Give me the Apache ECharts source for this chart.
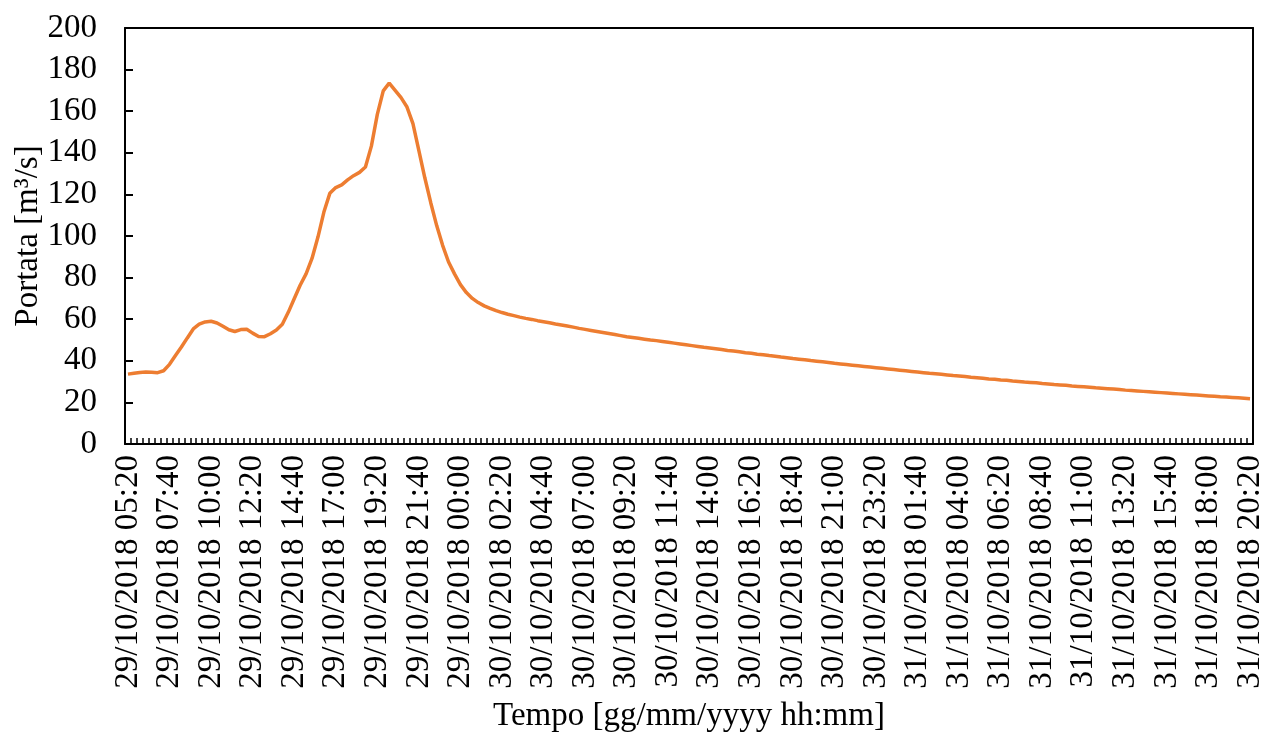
<!DOCTYPE html>
<html>
<head>
  <meta charset="utf-8">
  <title>Portata</title>
  <script src="https://cdn.jsdelivr.net/npm/echarts@6/dist/echarts.min.js"></script>
  <style>
    html, body { margin: 0; padding: 0; background: #fff; }
    #chart { width: 1263px; height: 733px; }
  </style>
</head>
<body>
  <div id="chart"></div>
  <script type="application/javascript">
      // etichette visibili sull'asse x (una ogni 7 intervalli da 20 min)
      var tickLabels = [
          '29/10/2018 05:20', '29/10/2018 07:40', '29/10/2018 10:00', '29/10/2018 12:20',
          '29/10/2018 14:40', '29/10/2018 17:00', '29/10/2018 19:20', '29/10/2018 21:40',
          '29/10/2018 00:00', '30/10/2018 02:20', '30/10/2018 04:40', '30/10/2018 07:00',
          '30/10/2018 09:20', '30/10/2018 11:40', '30/10/2018 14:00', '30/10/2018 16:20',
          '30/10/2018 18:40', '30/10/2018 21:00', '30/10/2018 23:20', '31/10/2018 01:40',
          '31/10/2018 04:00', '31/10/2018 06:20', '31/10/2018 08:40', '31/10/2018 11:00',
          '31/10/2018 13:20', '31/10/2018 15:40', '31/10/2018 18:00', '31/10/2018 20:20'
      ];

      // portata [m3/s], un valore ogni 20 minuti
      var portata = [
          33.6, 34.0, 34.4, 34.6, 34.5, 34.3, 35.2, 38.3, 42.5, 46.6,
          51.0, 55.3, 57.6, 58.7, 59.0, 58.2, 56.6, 54.9, 54.1, 55.0,
          55.2, 53.3, 51.7, 51.6, 53.0, 54.8, 57.6, 63.3, 69.8, 76.3,
          81.8, 89.2, 99.5, 111.5, 120.5, 123.3, 124.6, 127.0, 129.0, 130.6,
          133.2, 143.2, 158.5, 169.8, 173.5, 170.0, 166.5, 162.0, 154.0, 141.0,
          128.0, 116.0, 105.0, 95.5, 87.5, 81.8, 76.6, 72.8, 70.0, 68.0,
          66.4, 65.2, 64.1, 63.2, 62.4, 61.7, 61.0, 60.4, 59.9, 59.3,
          58.8, 58.3, 57.7, 57.2, 56.7, 56.2, 55.6, 55.1, 54.6, 54.1,
          53.6, 53.1, 52.6, 52.1, 51.6, 51.2, 50.8, 50.4, 50.0, 49.7,
          49.3, 48.9, 48.5, 48.1, 47.7, 47.3, 46.9, 46.5, 46.2, 45.8,
          45.4, 45.0, 44.7, 44.3, 43.9, 43.6, 43.2, 42.9, 42.5, 42.2,
          41.8, 41.5, 41.1, 40.8, 40.5, 40.1, 39.8, 39.5, 39.2, 38.8,
          38.5, 38.2, 37.9, 37.6, 37.3, 37.0, 36.7, 36.4, 36.1, 35.8,
          35.5, 35.2, 34.9, 34.6, 34.3, 34.0, 33.8, 33.5, 33.2, 32.9,
          32.7, 32.4, 32.1, 31.9, 31.6, 31.3, 31.1, 30.8, 30.6, 30.3,
          30.1, 29.8, 29.6, 29.4, 29.1, 28.9, 28.6, 28.4, 28.2, 27.9,
          27.7, 27.5, 27.3, 27.0, 26.8, 26.6, 26.4, 26.2, 25.9, 25.7,
          25.5, 25.3, 25.1, 24.9, 24.7, 24.5, 24.3, 24.1, 23.9, 23.7,
          23.5, 23.3, 23.1, 22.9, 22.7, 22.6, 22.4, 22.2, 22.0, 21.8
      ];

      var yTicks = [0, 20, 40, 60, 80, 100, 120, 140, 160, 180, 200];

      // categorie: solo una ogni 7 ha l'etichetta visibile
      var categorie = [];
      for (var i = 0; i < portata.length; i++) {
          categorie.push(i % 7 === 0 ? tickLabels[i / 7] : 'c' + i);
      }

      var font = 'Liberation Serif, Times New Roman, serif';
      var myChart = echarts.init(document.getElementById('chart'));
      myChart.setOption({
          animation: false,
          grid: [
              {
                  left: 125,
                  right: 10,
                  top: 28,
                  bottom: 289,
                  outerBoundsMode: 'none',
                  containLabel: false
              },
              {
                  // striscia larga 8 px sul bordo sinistro: le sue splitLine fanno da tacche
                  left: 125,
                  width: 8,
                  top: 28,
                  bottom: 289,
                  outerBoundsMode: 'none',
                  containLabel: false
              }
          ],
          xAxis: [
              {
                  type: 'category',
                  gridIndex: 0,
                  position: 'bottom',
                  boundaryGap: true,
                  data: categorie,
                  name: 'Tempo [gg/mm/yyyy hh:mm]',
                  nameLocation: 'middle',
                  nameGap: 256,
                  nameTextStyle: { fontFamily: font, fontSize: 33, color: '#000' },
                  axisLine: { show: true, lineStyle: { color: '#000', width: 2 } },
                  axisTick: { show: true, inside: true, interval: 0, length: 6, lineStyle: { color: '#000', width: 1.5 } },
                  axisLabel: {
                      interval: 6,
                      rotate: 90,
                      margin: 11,
                      fontFamily: font,
                      fontSize: 33,
                      color: '#000'
                  },
                  splitLine: { show: false }
              },
              {
                  // bordo superiore
                  type: 'category',
                  gridIndex: 0,
                  position: 'top',
                  boundaryGap: true,
                  data: categorie,
                  axisLine: { show: true, onZero: false, lineStyle: { color: '#000', width: 2 } },
                  axisTick: { show: false },
                  axisLabel: { show: false },
                  splitLine: { show: false }
              },
              {
                  type: 'value',
                  gridIndex: 1,
                  min: 0,
                  max: 1,
                  show: false
              }
          ],
          yAxis: [
              {
                  type: 'value',
                  gridIndex: 0,
                  position: 'left',
                  min: yTicks[0],
                  max: yTicks[yTicks.length - 1],
                  interval: 20,
                  name: 'Portata [m³/s]',
                  nameLocation: 'middle',
                  nameGap: 80,
                  nameMoveOverlap: false,
                  nameTextStyle: { fontFamily: font, fontSize: 33, color: '#000' },
                  axisLine: { show: true, onZero: false, lineStyle: { color: '#000', width: 2 } },
                  axisTick: { show: false },
                  axisLabel: { show: true, margin: 28, fontFamily: font, fontSize: 33, color: '#000' },
                  splitLine: { show: false }
              },
              {
                  // bordo destro
                  type: 'value',
                  gridIndex: 0,
                  position: 'right',
                  min: yTicks[0],
                  max: yTicks[yTicks.length - 1],
                  interval: 20,
                  axisLine: { show: true, onZero: false, lineStyle: { color: '#000', width: 2 } },
                  axisTick: { show: false },
                  axisLabel: { show: false },
                  splitLine: { show: false }
              },
              {
                  // tacche interne dell'asse y
                  type: 'value',
                  gridIndex: 1,
                  min: yTicks[0],
                  max: yTicks[yTicks.length - 1],
                  interval: 20,
                  axisLine: { show: false },
                  axisTick: { show: false },
                  axisLabel: { show: false },
                  splitLine: { show: true, lineStyle: { color: '#000', width: 2 } }
              }
          ],
          series: [
              {
                  name: 'Portata',
                  type: 'line',
                  xAxisIndex: 0,
                  yAxisIndex: 0,
                  data: portata,
                  showSymbol: false,
                  smooth: false,
                  lineStyle: { color: '#ED7D31', width: 3.5 }
              }
          ]
      });
  </script>
</body>
</html>
